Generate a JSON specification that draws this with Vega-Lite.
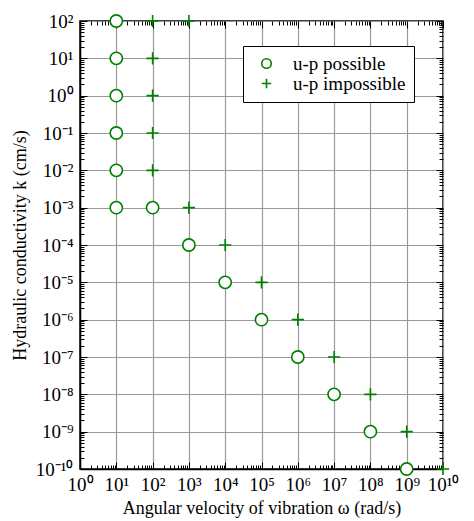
{
  "$schema": "https://vega.github.io/schema/vega-lite/v6.json",
  "width": 363,
  "height": 448,
  "autosize": "none",
  "padding": {"left": 80, "top": 21, "right": 31, "bottom": 52},
  "background": "white",
  "config": {
    "font": "Liberation Serif",
    "view": {"stroke": "black", "strokeWidth": 1.5},
    "axis": {
      "labelFont": "Liberation Serif",
      "titleFont": "Liberation Serif",
      "labelFontSize": 19,
      "titleFontSize": 18,
      "titleFontWeight": "normal",
      "labelColor": "black",
      "titleColor": "black",
      "domainColor": "black",
      "domainWidth": 1.5,
      "tickColor": "black",
      "gridColor": "#999999",
      "gridWidth": 1.2,
      "labelOverlap": false,
      "labelBound": false,
      "labelFlush": false
    }
  },
  "data": {
    "values": [
      {"w": 10, "k": 100, "type": "u-p possible"},
      {"w": 10, "k": 10, "type": "u-p possible"},
      {"w": 10, "k": 1, "type": "u-p possible"},
      {"w": 10, "k": 0.1, "type": "u-p possible"},
      {"w": 10, "k": 0.01, "type": "u-p possible"},
      {"w": 10, "k": 0.001, "type": "u-p possible"},
      {"w": 100, "k": 0.001, "type": "u-p possible"},
      {"w": 1000, "k": 1e-4, "type": "u-p possible"},
      {"w": 1e4, "k": 1e-5, "type": "u-p possible"},
      {"w": 1e5, "k": 1e-6, "type": "u-p possible"},
      {"w": 1e6, "k": 1e-7, "type": "u-p possible"},
      {"w": 1e7, "k": 1e-8, "type": "u-p possible"},
      {"w": 1e8, "k": 1e-9, "type": "u-p possible"},
      {"w": 1e9, "k": 1e-10, "type": "u-p possible"},
      {"w": 100, "k": 100, "type": "u-p impossible"},
      {"w": 1000, "k": 100, "type": "u-p impossible"},
      {"w": 100, "k": 10, "type": "u-p impossible"},
      {"w": 100, "k": 1, "type": "u-p impossible"},
      {"w": 100, "k": 0.1, "type": "u-p impossible"},
      {"w": 100, "k": 0.01, "type": "u-p impossible"},
      {"w": 1000, "k": 0.001, "type": "u-p impossible"},
      {"w": 1e4, "k": 1e-4, "type": "u-p impossible"},
      {"w": 1e5, "k": 1e-5, "type": "u-p impossible"},
      {"w": 1e6, "k": 1e-6, "type": "u-p impossible"},
      {"w": 1e7, "k": 1e-7, "type": "u-p impossible"},
      {"w": 1e8, "k": 1e-8, "type": "u-p impossible"},
      {"w": 1e9, "k": 1e-9, "type": "u-p impossible"},
      {"w": 1e10, "k": 1e-10, "type": "u-p impossible"}
    ]
  },
  "layer": [
    {
      "transform": [{"filter": "datum.type === 'u-p possible'"}],
      "mark": {"type": "point", "clip": false, "shape": "circle", "filled": true, "fill": "white", "opacity": 1, "strokeWidth": 0, "size": 150},
      "encoding": {
        "x": {
          "field": "w", "type": "quantitative",
          "scale": {"type": "log", "domain": [1, 1e10], "nice": false},
          "title": "Angular velocity of vibration  ω (rad/s)",
          "axis": {
            "orient": "bottom",
            "values": [1,2,3,4,5,6,7,8,9,10,20,30,40,50,60,70,80,90,100,200,300,400,500,600,700,800,900,1000,2000,3000,4000,5000,6000,7000,8000,9000,1e4,2e4,3e4,4e4,5e4,6e4,7e4,8e4,9e4,1e5,2e5,3e5,4e5,5e5,6e5,7e5,8e5,9e5,1e6,2e6,3e6,4e6,5e6,6e6,7e6,8e6,9e6,1e7,2e7,3e7,4e7,5e7,6e7,7e7,8e7,9e7,1e8,2e8,3e8,4e8,5e8,6e8,7e8,8e8,9e8,1e9,2e9,3e9,4e9,5e9,6e9,7e9,8e9,9e9,1e10],
            "labelExpr": "abs(log(datum.value)/LN10 - round(log(datum.value)/LN10)) < 0.001 ? ['10⁰','10¹','10²','10³','10⁴','10⁵','10⁶','10⁷','10⁸','10⁹','10¹⁰'][round(log(datum.value)/LN10)] : ''",
            "tickSize": {"condition": {"test": "abs(log(datum.value)/LN10 - round(log(datum.value)/LN10)) < 0.001", "value": -7}, "value": -4},
            "gridOpacity": {"condition": {"test": "abs(log(datum.value)/LN10 - round(log(datum.value)/LN10)) < 0.001", "value": 1}, "value": 0},
            "grid": true,
            "labelPadding": 13,
            "titlePadding": 2
          }
        },
        "y": {
          "field": "k", "type": "quantitative",
          "scale": {"type": "log", "domain": [1e-10, 100], "nice": false},
          "title": "Hydraulic conductivity k (cm/s)",
          "axis": {
            "orient": "left",
            "values": [1e-10,2e-10,3e-10,4e-10,5e-10,6e-10,7e-10,8e-10,9e-10,1e-9,2e-9,3e-9,4e-9,5e-9,6e-9,7e-9,8e-9,9e-9,1e-8,2e-8,3e-8,4e-8,5e-8,6e-8,7e-8,8e-8,9e-8,1e-7,2e-7,3e-7,4e-7,5e-7,6e-7,7e-7,8e-7,9e-7,1e-6,2e-6,3e-6,4e-6,5e-6,6e-6,7e-6,8e-6,9e-6,1e-5,2e-5,3e-5,4e-5,5e-5,6e-5,7e-5,8e-5,9e-5,1e-4,2e-4,3e-4,4e-4,5e-4,6e-4,7e-4,8e-4,9e-4,0.001,0.002,0.003,0.004,0.005,0.006,0.007,0.008,0.009,0.01,0.02,0.03,0.04,0.05,0.06,0.07,0.08,0.09,0.1,0.2,0.3,0.4,0.5,0.6,0.7,0.8,0.9,1,2,3,4,5,6,7,8,9,10,20,30,40,50,60,70,80,90,100],
            "labelExpr": "abs(log(datum.value)/LN10 - round(log(datum.value)/LN10)) < 0.001 ? ['10⁻¹⁰','10⁻⁹','10⁻⁸','10⁻⁷','10⁻⁶','10⁻⁵','10⁻⁴','10⁻³','10⁻²','10⁻¹','10⁰','10¹','10²'][round(log(datum.value)/LN10) + 10] : ''",
            "tickSize": {"condition": {"test": "abs(log(datum.value)/LN10 - round(log(datum.value)/LN10)) < 0.001", "value": -7}, "value": -4},
            "gridOpacity": {"condition": {"test": "abs(log(datum.value)/LN10 - round(log(datum.value)/LN10)) < 0.001", "value": 1}, "value": 0},
            "grid": true,
            "labelPadding": 14,
            "titlePadding": 6
          }
        }
      }
    },
    {
      "mark": {"type": "point", "clip": false, "opacity": 1, "filled": false, "strokeWidth": 1.6, "size": 150},
      "encoding": {
        "x": {"field": "w", "type": "quantitative", "scale": {"type": "log", "domain": [1, 1e10], "nice": false}, "axis": null},
        "y": {"field": "k", "type": "quantitative", "scale": {"type": "log", "domain": [1e-10, 100], "nice": false}, "axis": null},
        "shape": {
          "field": "type", "type": "nominal",
          "scale": {"domain": ["u-p possible", "u-p impossible"], "range": ["circle", "M-1,0L1,0M0,-1L0,1"]},
          "legend": {
            "title": null,
            "orient": "none",
            "legendX": 163,
            "legendY": 25,
            "strokeColor": "black",
            "fillColor": "white",
            "padding": 8,
            "labelFont": "Liberation Serif",
            "labelFontSize": 19,
            "labelColor": "black",
            "symbolSize": 90,
            "symbolStrokeWidth": 1.6,
            "labelOffset": 17,
            "rowPadding": 0,
            "symbolOffset": 6
          }
        },
        "stroke": {
          "field": "type", "type": "nominal",
          "scale": {"domain": ["u-p possible", "u-p impossible"], "range": ["#008000", "#008000"]}
        }
      }
    },
    {
      "mark": {"type": "point", "opacity": 0},
      "encoding": {
        "x": {
          "field": "w", "type": "quantitative",
          "scale": {"type": "log", "domain": [1, 1e10], "nice": false},
          "axis": {
            "orient": "top", "title": null, "labels": false, "grid": false, "domain": false,
            "values": [1,2,3,4,5,6,7,8,9,10,20,30,40,50,60,70,80,90,100,200,300,400,500,600,700,800,900,1000,2000,3000,4000,5000,6000,7000,8000,9000,1e4,2e4,3e4,4e4,5e4,6e4,7e4,8e4,9e4,1e5,2e5,3e5,4e5,5e5,6e5,7e5,8e5,9e5,1e6,2e6,3e6,4e6,5e6,6e6,7e6,8e6,9e6,1e7,2e7,3e7,4e7,5e7,6e7,7e7,8e7,9e7,1e8,2e8,3e8,4e8,5e8,6e8,7e8,8e8,9e8,1e9,2e9,3e9,4e9,5e9,6e9,7e9,8e9,9e9,1e10],
            "tickSize": {"condition": {"test": "abs(log(datum.value)/LN10 - round(log(datum.value)/LN10)) < 0.001", "value": -7}, "value": -4}
          }
        },
        "y": {
          "field": "k", "type": "quantitative",
          "scale": {"type": "log", "domain": [1e-10, 100], "nice": false},
          "axis": {
            "orient": "right", "title": null, "labels": false, "grid": false, "domain": false,
            "values": [1e-10,2e-10,3e-10,4e-10,5e-10,6e-10,7e-10,8e-10,9e-10,1e-9,2e-9,3e-9,4e-9,5e-9,6e-9,7e-9,8e-9,9e-9,1e-8,2e-8,3e-8,4e-8,5e-8,6e-8,7e-8,8e-8,9e-8,1e-7,2e-7,3e-7,4e-7,5e-7,6e-7,7e-7,8e-7,9e-7,1e-6,2e-6,3e-6,4e-6,5e-6,6e-6,7e-6,8e-6,9e-6,1e-5,2e-5,3e-5,4e-5,5e-5,6e-5,7e-5,8e-5,9e-5,1e-4,2e-4,3e-4,4e-4,5e-4,6e-4,7e-4,8e-4,9e-4,0.001,0.002,0.003,0.004,0.005,0.006,0.007,0.008,0.009,0.01,0.02,0.03,0.04,0.05,0.06,0.07,0.08,0.09,0.1,0.2,0.3,0.4,0.5,0.6,0.7,0.8,0.9,1,2,3,4,5,6,7,8,9,10,20,30,40,50,60,70,80,90,100],
            "tickSize": {"condition": {"test": "abs(log(datum.value)/LN10 - round(log(datum.value)/LN10)) < 0.001", "value": -7}, "value": -4}
          }
        }
      }
    }
  ],
  "resolve": {"axis": {"x": "independent", "y": "independent"}}
}
